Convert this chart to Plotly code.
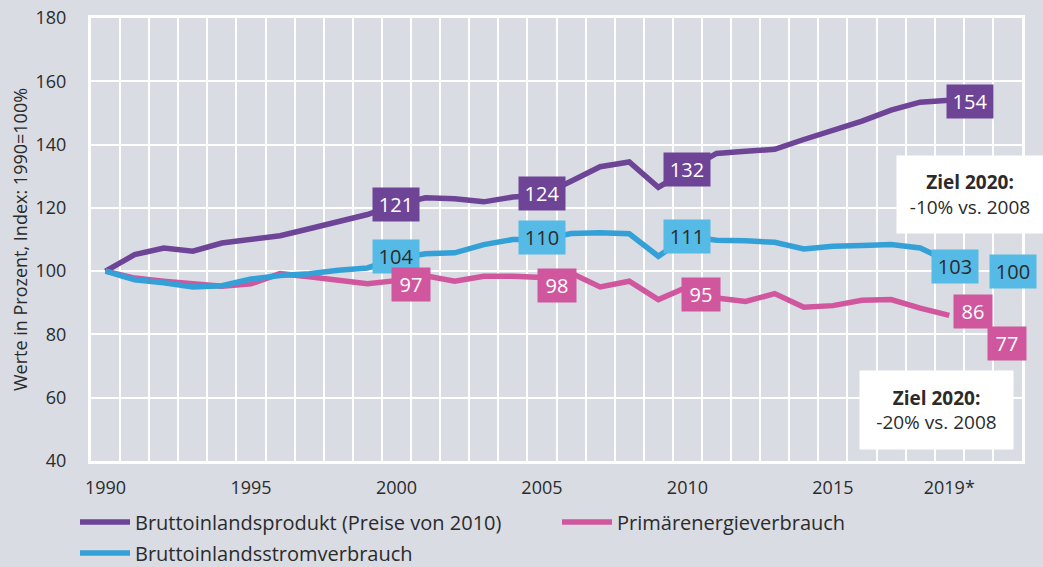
import plotly.graph_objects as go

years = list(range(1990, 2020))
gdp = [100, 105.2, 107.3, 106.3, 108.9, 110.2, 111.2, 113.4, 115.8, 117.9,
       121, 123.2, 122.9, 121.9, 123.4, 124, 128.4, 133.0, 134.5, 126.5,
       132, 137.2, 137.9, 138.5, 141.6, 144.3, 147.4, 150.9, 153.4, 154]
strom = [100, 97.3, 96.3, 95.0, 95.4, 97.5, 98.6, 99.2, 100.3, 101.0,
         104, 105.5, 105.8, 108.4, 110.0, 110, 111.9, 112.1, 111.8, 104.7,
         111, 109.8, 109.6, 109.1, 107.0, 107.9, 108.1, 108.4, 107.3, 103]
primaer = [100, 97.8, 96.8, 96.0, 95.2, 96.0, 99.2, 98.2, 97.3, 96.0,
           97, 98.5, 96.8, 98.4, 98.4, 98, 99.4, 95.0, 96.8, 91.0,
           95, 91.5, 90.4, 92.9, 88.6, 89.1, 90.8, 91.0, 88.3, 86]
label_years = [2000, 2005, 2010, 2019]
target_year = 2020
strom_target = 100
primaer_target = 77

series_names = ["Bruttoinlandsprodukt (Preise von 2010)", "Primärenergieverbrauch",
                "Bruttoinlandsstromverbrauch"]
tick_years = [1990, 1995, 2000, 2005, 2010, 2015, 2019]
tick_text = ["1990", "1995", "2000", "2005", "2010", "2015", "2019*"]
y_title = "Werte in Prozent, Index: 1990=100%"
ziel_texts = ["<b>Ziel 2020:</b><br>-10% vs. 2008", "<b>Ziel 2020:</b><br>-20% vs. 2008"]

PURPLE = "#6E4596"
PINK = "#D0579D"
BLUE_LINE = "#33A1D7"
BLUE_BOX = "#55BAE6"
BG = "#D9DCE3"
TXT = "#2B2B2B"
FONT = "Open Sans"

fig = go.Figure()
fig.add_trace(go.Scatter(x=years, y=gdp, mode="lines", name=series_names[0],
                         line=dict(color=PURPLE, width=5.5), legend="legend"))
fig.add_trace(go.Scatter(x=years, y=primaer, mode="lines", name=series_names[1],
                         line=dict(color=PINK, width=5.5), legend="legend2"))
fig.add_trace(go.Scatter(x=years, y=strom, mode="lines", name=series_names[2],
                         line=dict(color=BLUE_LINE, width=5.5), legend="legend3"))

def box(x, y, text, bg, fc):
    w = 40 if len(text) >= 3 else 32
    fig.add_annotation(x=x, y=y, xref="x", yref="y", text=text, showarrow=False,
                       bgcolor=bg, font=dict(family=FONT, size=20, color=fc),
                       width=w, height=27, borderpad=3)

gdp_off = [(0, 0), (0, 0.4), (0, 0), (0.7, -0.3)]
strom_off = [(0, 0.6), (0, 0.6), (0, 0.1), (0.2, -1.6)]
prim_off = [(0.5, -1.1), (0.5, -2.6), (0.45, -2.3), (0.8, 1.2)]
for yr, (dx, dy) in zip(label_years, gdp_off):
    v = gdp[years.index(yr)]
    box(yr + dx, v + dy, str(round(v)), PURPLE, "white")
for yr, (dx, dy) in zip(label_years, strom_off):
    v = strom[years.index(yr)]
    box(yr + dx, v + dy, str(round(v)), BLUE_BOX, TXT)
for yr, (dx, dy) in zip(label_years, prim_off):
    v = primaer[years.index(yr)]
    box(yr + dx, v + dy, str(round(v)), PINK, "white")
box(target_year + 1.2, strom_target - 0.2, str(strom_target), BLUE_BOX, TXT)
box(target_year + 1.0, primaer_target, str(primaer_target), PINK, "white")

fig.add_annotation(x=2019.72, y=124.1, xref="x", yref="y", text=ziel_texts[0],
                   showarrow=False, bgcolor="white", width=146, height=77, borderpad=0,
                   font=dict(family=FONT, size=19, color=TXT))
fig.add_annotation(x=2018.57, y=56.1, xref="x", yref="y", text=ziel_texts[1],
                   showarrow=False, bgcolor="white", width=153, height=78, borderpad=0,
                   font=dict(family=FONT, size=19, color=TXT))

leg_common = dict(orientation="h", xanchor="left", yanchor="middle",
                  bgcolor="rgba(0,0,0,0)",
                  font=dict(family=FONT, size=20, color=TXT), itemwidth=50)
PW, PH, PL, PB = 931, 443, 91, 461
fig.update_layout(
    width=1043, height=567, showlegend=True,
    margin=dict(l=91, r=21, t=18, b=106, autoexpand=False),
    paper_bgcolor=BG, plot_bgcolor=BG,
    font=dict(family=FONT, size=18, color=TXT),
    legend=dict(x=(75 - PL) / PW, y=(PB - 522) / PH, **leg_common),
    legend2=dict(x=(557 - PL) / PW, y=(PB - 522) / PH, **leg_common),
    legend3=dict(x=(75 - PL) / PW, y=(PB - 553) / PH, **leg_common),
    xaxis=dict(range=[1989.5, 2021.5], tickvals=tick_years, ticktext=tick_text,
               showgrid=False, zeroline=False, showline=True, linecolor="white",
               linewidth=3, mirror=True, ticks="", ticklabelstandoff=8,
               automargin=False,
               tickfont=dict(family=FONT, size=18, color=TXT),
               minor=dict(tick0=1989.5, dtick=1, showgrid=True, gridcolor="white",
                          gridwidth=2, ticks="")),
    yaxis=dict(range=[40, 180], dtick=20, showgrid=True, gridcolor="white", gridwidth=2,
               zeroline=False, showline=True, linecolor="white", linewidth=3, mirror=True,
               ticks="", ticklabelstandoff=18, automargin=False,
               tickfont=dict(family=FONT, size=18, color=TXT),
               title=dict(text=y_title, standoff=4,
                          font=dict(family=FONT, size=18, color=TXT))),
)
fig.write_html("out.html", config={"displayModeBar": False},
               post_script="document.body.style.margin='0';document.body.style.overflow='hidden';")
